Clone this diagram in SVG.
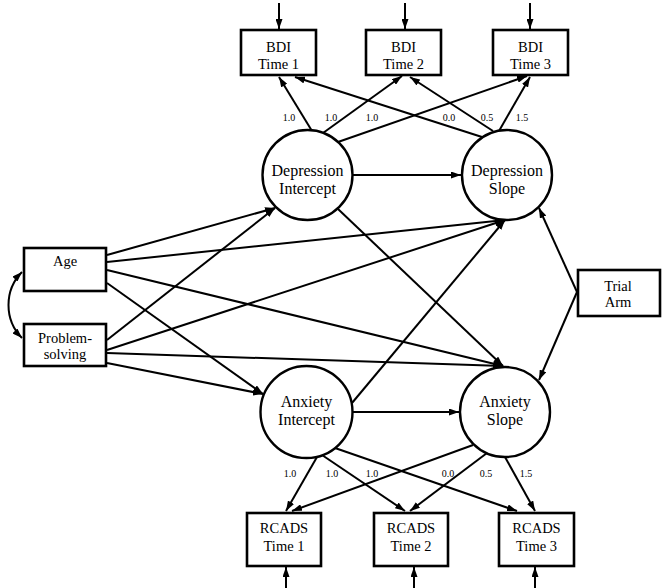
<svg xmlns="http://www.w3.org/2000/svg" width="668" height="588" viewBox="0 0 668 588">
<defs>
<marker id="ah" viewBox="0 0 10 7" refX="10" refY="3.5" markerWidth="10" markerHeight="7" markerUnits="userSpaceOnUse" orient="auto-start-reverse">
<path d="M0,0 L10,3.5 L0,7 z" fill="#000"/>
</marker>
<style>
rect.box{fill:#fff;stroke:#000;stroke-width:2.6}
circle.lat{fill:#fff;stroke:#000;stroke-width:2.4}
text{font-family:"Liberation Serif","Times New Roman",serif;fill:#000;text-anchor:middle}
text.n{font-size:14.5px}
text.c{font-size:16px}
text.l{font-size:10px}
#edges line,#edges path{stroke:#000;stroke-width:2;fill:none;marker-end:url(#ah)}
</style>
</defs>
<rect width="668" height="588" fill="#fff"/>
<g id="edges">
<line x1="279" y1="3" x2="279" y2="29"/>
<line x1="405" y1="3" x2="405" y2="29"/>
<line x1="530" y1="3" x2="530" y2="29"/>
<line x1="286" y1="588" x2="286" y2="567"/>
<line x1="414" y1="588" x2="414" y2="567"/>
<line x1="535" y1="588" x2="535" y2="567"/>
<line x1="312" y1="131" x2="279" y2="77"/>
<line x1="323" y1="133" x2="402" y2="76"/>
<line x1="338" y1="142" x2="527" y2="76"/>
<line x1="482" y1="137" x2="295" y2="77"/>
<line x1="493" y1="131" x2="410" y2="77"/>
<line x1="499" y1="131" x2="530" y2="77"/>
<line x1="353" y1="175" x2="461" y2="175"/>
<line x1="353" y1="412" x2="459" y2="412"/>
<line x1="338" y1="209" x2="503" y2="366"/>
<line x1="352" y1="403" x2="505" y2="220"/>
<line x1="107" y1="255" x2="275" y2="208"/>
<line x1="107" y1="262" x2="505" y2="220"/>
<line x1="107" y1="270" x2="503" y2="366"/>
<line x1="107" y1="283" x2="263" y2="394"/>
<line x1="107" y1="340" x2="275" y2="208"/>
<line x1="107" y1="350" x2="505" y2="220"/>
<line x1="107" y1="353" x2="503" y2="366"/>
<line x1="107" y1="363" x2="263" y2="394"/>
<line x1="577" y1="292" x2="539" y2="208"/>
<line x1="577" y1="292" x2="539" y2="380"/>
<line x1="317" y1="457" x2="286" y2="511"/>
<line x1="322" y1="455" x2="405" y2="511"/>
<line x1="335" y1="448" x2="517" y2="511"/>
<line x1="473" y1="445" x2="292" y2="511"/>
<line x1="487" y1="453" x2="410" y2="511"/>
<line x1="505" y1="457" x2="535" y2="511"/>
<path d="M22,272 C4,290 4,320 22,338" style="marker-start:url(#ah)"/>
</g>
<g id="bdi1"><rect class="box" x="241" y="30" width="75" height="45"/><text class="n" x="278.5" y="52">BDI</text><text class="n" x="278.5" y="69">Time 1</text></g>
<g id="bdi2"><rect class="box" x="366" y="30" width="75" height="45"/><text class="n" x="403.5" y="52">BDI</text><text class="n" x="403.5" y="69">Time 2</text></g>
<g id="bdi3"><rect class="box" x="493" y="30" width="75" height="45"/><text class="n" x="530.5" y="52">BDI</text><text class="n" x="530.5" y="69">Time 3</text></g>
<g id="depInt"><circle class="lat" cx="307.5" cy="175" r="45"/><text class="c" x="307.5" y="176">Depression</text><text class="c" x="307.5" y="194">Intercept</text></g>
<g id="depSlope"><circle class="lat" cx="507" cy="175" r="45"/><text class="c" x="507" y="176">Depression</text><text class="c" x="507" y="194">Slope</text></g>
<g id="anxInt"><circle class="lat" cx="306.5" cy="412" r="46"/><text class="c" x="306.5" y="407">Anxiety</text><text class="c" x="306.5" y="425">Intercept</text></g>
<g id="anxSlope"><circle class="lat" cx="505" cy="412" r="45"/><text class="c" x="505" y="407">Anxiety</text><text class="c" x="505" y="425">Slope</text></g>
<g id="age"><rect class="box" x="24" y="248" width="82" height="43"/><text class="n" x="65" y="266">Age</text></g>
<g id="ps"><rect class="box" x="24" y="324" width="82" height="42"/><text class="n" x="65" y="343">Problem-</text><text class="n" x="65" y="359">solving</text></g>
<g id="trial"><rect class="box" x="578" y="270" width="82" height="46"/><text class="n" x="618" y="291">Trial</text><text class="n" x="618" y="307">Arm</text></g>
<g id="rcads1"><rect class="box" x="247" y="513" width="74" height="53"/><text class="n" x="284" y="533">RCADS</text><text class="n" x="284" y="551">Time 1</text></g>
<g id="rcads2"><rect class="box" x="374" y="513" width="74" height="53"/><text class="n" x="411" y="533">RCADS</text><text class="n" x="411" y="551">Time 2</text></g>
<g id="rcads3"><rect class="box" x="499" y="513" width="75" height="53"/><text class="n" x="536.5" y="533">RCADS</text><text class="n" x="536.5" y="551">Time 3</text></g>
<g id="labels">
<text class="l" x="289" y="121">1.0</text>
<text class="l" x="331" y="121">1.0</text>
<text class="l" x="372" y="121">1.0</text>
<text class="l" x="449" y="121">0.0</text>
<text class="l" x="487" y="121">0.5</text>
<text class="l" x="522" y="121">1.5</text>
<text class="l" x="290" y="477">1.0</text>
<text class="l" x="332" y="477">1.0</text>
<text class="l" x="372" y="477">1.0</text>
<text class="l" x="448" y="477">0.0</text>
<text class="l" x="486" y="477">0.5</text>
<text class="l" x="526" y="477">1.5</text>
</g>
</svg>
